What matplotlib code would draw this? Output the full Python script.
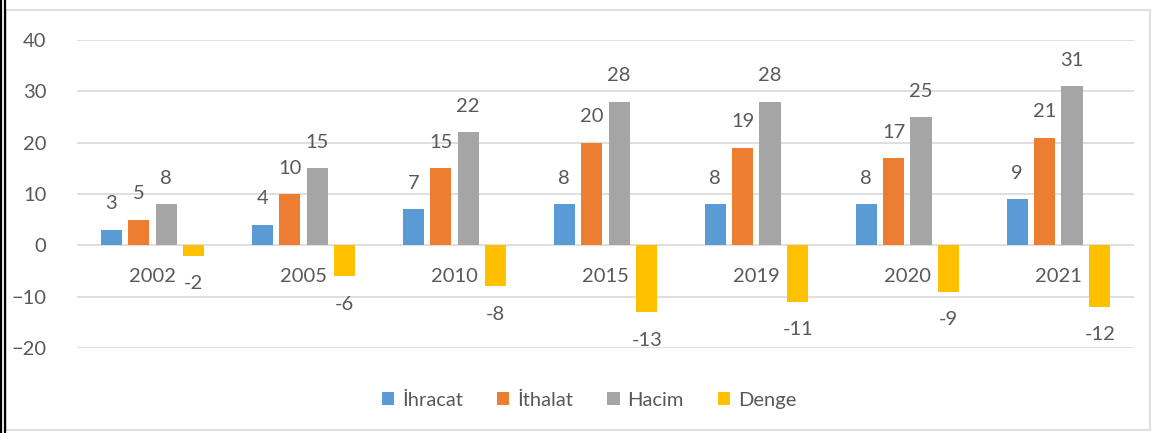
import matplotlib.pyplot as plt
import numpy as np
from matplotlib.lines import Line2D
from matplotlib.patches import Rectangle

# Data
years = ["2002", "2005", "2010", "2015", "2019", "2020", "2021"]
ihracat = [3, 4, 7, 8, 8, 8, 9]
ithalat = [5, 10, 15, 20, 19, 17, 21]
hacim = [8, 15, 22, 28, 28, 25, 31]
denge = [-2, -6, -8, -13, -11, -9, -12]

series_names = ["İhracat", "İthalat", "Hacim", "Denge"]
colors = ["#5B9BD5", "#ED7D31", "#A5A5A5", "#FFC000"]
text_color = "#595959"

plt.rcParams["font.family"] = ["Lato", "DejaVu Sans"]

fig = plt.figure(figsize=(11.51, 4.33), dpi=100)
ax = fig.add_axes([0.0669, 0.1963, 0.9183, 0.7113])

x = np.arange(len(years))
step = 0.182
width = 0.142
offsets = [-1.5 * step, -0.5 * step, 0.5 * step, 1.5 * step]

for vals, name, col, off in zip([ihracat, ithalat, hacim, denge], series_names, colors, offsets):
    ax.bar(x + off, vals, width, color=col, label=name, zorder=3)
    for xi, v in zip(x + off, vals):
        dy = 26 if v >= 0 else -28
        ax.annotate(str(v), xy=(xi, v), xytext=(0, dy), textcoords="offset pixels",
                    ha="center", va="center", fontsize=14.5, color=text_color)

# category labels next to the zero line
for xi, lab in zip(x, years):
    ax.annotate(lab, xy=(xi, 0), xytext=(0, -31), textcoords="offset pixels",
                ha="center", va="center", fontsize=14.5, color=text_color)

# Axes
ax.set_xlim(-0.5, len(years) - 0.5)
ax.set_ylim(-20, 40)
ax.set_yticks(np.arange(-20, 41, 10))
ax.set_xticks([])
ax.tick_params(axis="y", length=0, pad=22, labelsize=14.5, labelcolor=text_color)
ax.grid(axis="y", color="#D9D9D9", linewidth=1.2, zorder=0)
for s in ax.spines.values():
    s.set_visible(False)

# Legend
fig.legend(loc="center", bbox_to_anchor=(0.512, 0.076), ncol=4, frameon=False,
           fontsize=14.5, handlelength=0.6, handleheight=0.6, handletextpad=0.4,
           columnspacing=1.7, labelcolor=text_color)

# Chart border and page line
fig.patches.append(Rectangle((6 / 1151, 3 / 433), 1144 / 1151, 420 / 433, transform=fig.transFigure,
                             fill=False, edgecolor="#D9D9D9", linewidth=1.2))
fig.lines.append(Line2D([1 / 1151, 1 / 1151], [0, 1], transform=fig.transFigure, color="black", linewidth=1.6))
fig.lines.append(Line2D([5 / 1151, 5 / 1151], [0, 1], transform=fig.transFigure, color="black", linewidth=1.6))

fig.savefig("out.png", dpi=100)
